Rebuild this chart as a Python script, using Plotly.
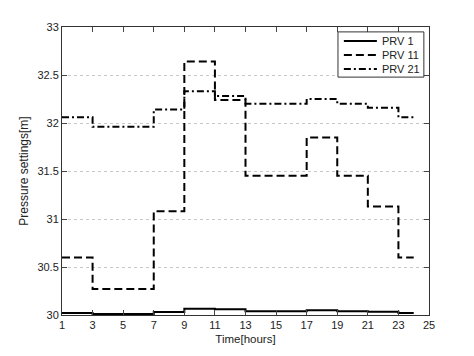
import plotly.graph_objects as go

hours = list(range(1, 25))
prv1 = [30.02, 30.02, 30.01, 30.01, 30.01, 30.01, 30.03, 30.03, 30.066, 30.066, 30.06, 30.06,
        30.04, 30.04, 30.04, 30.04, 30.05, 30.05, 30.04, 30.04, 30.035, 30.035, 30.02, 30.02]
prv11 = [30.60, 30.60, 30.27, 30.27, 30.27, 30.27, 31.08, 31.08, 32.64, 32.64, 32.24, 32.24,
         31.45, 31.45, 31.45, 31.45, 31.85, 31.85, 31.45, 31.45, 31.13, 31.13, 30.60, 30.60]
prv21 = [32.06, 32.06, 31.96, 31.96, 31.96, 31.96, 32.14, 32.14, 32.33, 32.33, 32.28, 32.28,
         32.20, 32.20, 32.20, 32.20, 32.25, 32.25, 32.20, 32.20, 32.16, 32.16, 32.06, 32.06]
names = ["PRV 1", "PRV 11", "PRV 21"]
x_ticks = list(range(1, 26, 2))
y_ticks = [30, 30.5, 31, 31.5, 32, 32.5, 33]

font = "Liberation Sans, Arial, sans-serif"
dashes = ["solid", "8px,4px", "7px,3px,2px,3px"]
fig = go.Figure()
for name, ys, dash in zip(names, [prv1, prv11, prv21], dashes):
    fig.add_trace(go.Scatter(x=hours, y=ys, name=name, mode="lines", line_shape="hv",
                             line=dict(color="black", width=2, dash=dash), showlegend=False))

# hand-built legend box (compact, MATLAB-like)
shapes = [dict(type="rect", xref="paper", yref="paper", x0=0.752, x1=0.986, y0=0.826, y1=0.983,
               line=dict(color="#333", width=1), fillcolor="white", layer="above")]
annotations = []
legend_y = [0.951, 0.903, 0.854]
for name, dash, ly in zip(names, dashes, legend_y):
    shapes.append(dict(type="line", xref="paper", yref="paper", x0=0.768, x1=0.858, y0=ly, y1=ly,
                       line=dict(color="black", width=2, dash=dash), layer="above"))
    annotations.append(dict(text=name, xref="paper", yref="paper", x=0.866, y=ly,
                            xanchor="left", yanchor="middle", showarrow=False,
                            font=dict(size=11, color="#222", family=font)))

fig.update_layout(
    width=474, height=356,
    margin=dict(l=54, r=53, t=19, b=49),
    paper_bgcolor="white", plot_bgcolor="white",
    font=dict(family=font, size=11, color="#222"),
    showlegend=False,
    shapes=shapes, annotations=annotations,
)
fig.update_xaxes(range=[1, 25], tickvals=x_ticks, ticks="inside", ticklen=5,
                 showline=True, linecolor="#333", linewidth=1, mirror="ticks",
                 showgrid=False, zeroline=False,
                 title=dict(text="Time[hours]", standoff=4, font=dict(size=11.5)))
fig.update_yaxes(range=[30, 33], tickvals=y_ticks, ticks="inside", ticklen=5,
                 showline=True, linecolor="#333", linewidth=1, mirror="ticks",
                 showgrid=True, gridcolor="#c8c8c8", griddash="dot", gridwidth=1,
                 zeroline=False,
                 title=dict(text="Pressure settings[m]", standoff=6, font=dict(size=12)))
fig.write_html("out.html")
